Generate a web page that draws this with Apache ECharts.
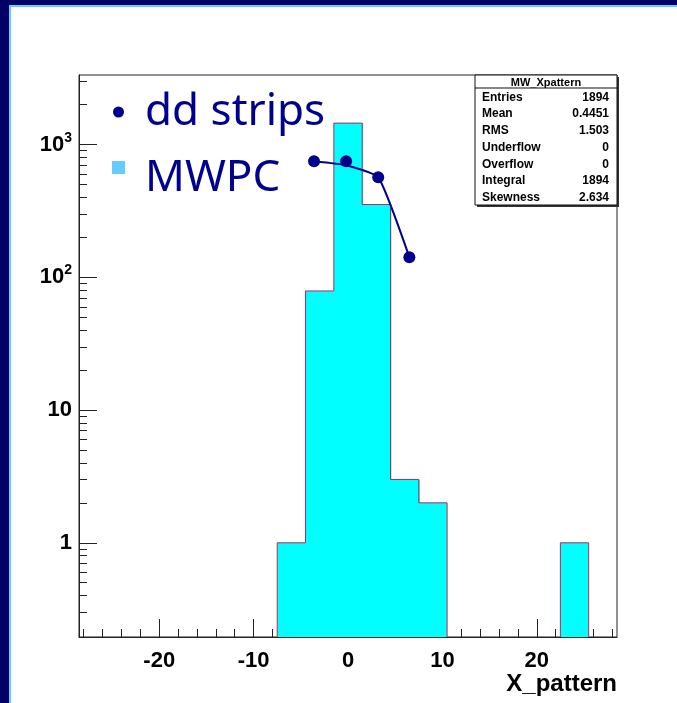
<!DOCTYPE html>
<html>
<head>
<meta charset="utf-8">
<script src="https://cdn.jsdelivr.net/npm/echarts@6/dist/echarts.min.js"></script>
<style>
html,body{margin:0;padding:0;background:#fff;}
#chart{width:677px;height:703px;}
</style>
</head>
<body>
<div id="chart"></div>
<script>
// ---- data ----
var binWidth = 3;
var binCenters = [-27,-24,-21,-18,-15,-12,-9,-6,-3,0,3,6,9,12,15,18,21,24,27];
var counts     = [0,0,0,0,0,0,0,1,79,1454,354,3,2,0,0,0,0,1,0];
var ddX = [-3.6, -0.2, 3.2, 6.5];
var ddY = [750, 750, 569, 142];
var ddLineX = [-3.6, -0.2, 3.2, 6.5];
var ddLineY = [750, 700, 569, 142];
var xMajor = [-20,-10,0,10,20];
var xMinor = [-28,-26,-24,-22,-18,-16,-14,-12,-8,-6,-4,-2,2,4,6,8,12,14,16,18,22,24,26,28];
var yMajor = [1,10,100,1000];
var yMinor = [0.3,0.4,0.5,0.6,0.7,0.8,0.9,2,3,4,5,6,7,8,9,20,30,40,50,60,70,80,90,200,300,400,500,600,700,800,900,2000,3000];
var statNames  = ['Entries','Mean','RMS','Underflow','Overflow','Integral','Skewness'];
var statValues = ['1894','0.4451','1.503','0','0','1894','2.634'];
var statTitle = 'MW_Xpattern';
var yMin = 0.195, yMax = 3350, xMin = -28.5, xMax = 28.5;

var chart = echarts.init(document.getElementById('chart'), null, {renderer:'canvas'});
var FONT = 'Liberation Sans, Arial, sans-serif';
var AX = '#222';

var histData = [];
for (var i = 0; i < counts.length; i++) {
  if (counts[i] > 0) histData.push([binCenters[i], counts[i], i]);
}

function renderBin(params, api) {
  var c = api.value(0), v = api.value(1), idx = api.value(2);
  var x0 = c - binWidth/2, x1 = c + binWidth/2;
  var pTL = api.coord([x0, v]);
  var pBR = api.coord([x1, yMin]);
  var prev = idx > 0 ? counts[idx-1] : 0;
  var next = idx < counts.length-1 ? counts[idx+1] : 0;
  var prevV = prev > 0 ? prev : yMin;
  var nextV = next > 0 ? next : yMin;
  var extra = next > 0 ? 1 : 0;
  var children = [{
    type:'rect',
    shape:{x:pTL[0], y:pTL[1], width:pBR[0]-pTL[0]+extra, height:pBR[1]-pTL[1]},
    style:{fill:'#00ffff', stroke:null}, z2:1
  }];
  var ls = {stroke:'#b8285a', lineWidth:1, fill:null};
  children.push({type:'line', shape:{x1:pTL[0], y1:pTL[1], x2:pBR[0], y2:pTL[1]}, style:ls, z2:5});
  if (v > prev) {
    var q = api.coord([x0, prevV]);
    children.push({type:'line', shape:{x1:pTL[0], y1:pTL[1], x2:pTL[0], y2:q[1]}, style:ls, z2:5});
  }
  if (v > next) {
    var r = api.coord([x1, nextV]);
    children.push({type:'line', shape:{x1:pBR[0], y1:pTL[1], x2:pBR[0], y2:r[1]}, style:ls, z2:5});
  }
  return {type:'group', children:children};
}

function yFmt(val) {
  var v = Math.round(val);
  if (v === 100) return '{b|10}{s|2}';
  if (v === 1000) return '{b|10}{s|3}';
  return '{b|' + v + '}';
}

// stats box graphic
var bx = 475, by = 75, bw = 142, bh = 130, hdr = 13;
var statChildren = [
  {type:'rect', shape:{x:bx+2, y:by+2, width:bw, height:bh}, style:{fill:'#333'}},
  {type:'rect', shape:{x:bx, y:by, width:bw, height:bh}, style:{fill:'#fff', stroke:'#111', lineWidth:1}},
  {type:'line', shape:{x1:bx, y1:by+hdr, x2:bx+bw, y2:by+hdr}, style:{stroke:'#111', lineWidth:1}},
  {type:'text', x:bx+bw/2, y:by+hdr/2+1, style:{text:statTitle, font:'bold 11px ' + FONT, fill:'#000', textAlign:'center', textVerticalAlign:'middle'}}
];
var rowH = (bh - hdr) / statNames.length;
for (var k = 0; k < statNames.length; k++) {
  var yy = by + hdr + rowH*(k+0.5) + 1;
  statChildren.push({type:'text', x:bx+7, y:yy, style:{text:statNames[k], font:'bold 12px ' + FONT, fill:'#000', textAlign:'left', textVerticalAlign:'middle'}});
  statChildren.push({type:'text', x:bx+bw-8, y:yy, style:{text:statValues[k], font:'bold 12px ' + FONT, fill:'#000', textAlign:'right', textVerticalAlign:'middle'}});
}

var option = {
  animation:false,
  backgroundColor:'#ffffff',
  grid:{left:79, top:75, width:538, height:562, show:true, borderColor:AX, borderWidth:1, backgroundColor:'transparent', containLabel:false},
  xAxis:[{
    type:'value', min:xMin, max:xMax, position:'bottom',
    axisLine:{show:true, onZero:false, lineStyle:{color:AX, width:1}},
    axisTick:{show:true, inside:true, length:18, customValues:xMajor, lineStyle:{color:AX, width:1}},
    axisLabel:{show:true, customValues:xMajor, fontSize:22, fontWeight:'bold', fontFamily:FONT, color:'#000', margin:13},
    splitLine:{show:false}
  },{
    type:'value', min:xMin, max:xMax, position:'bottom',
    axisLine:{show:false, onZero:false},
    axisTick:{show:true, inside:true, length:8, customValues:xMinor, lineStyle:{color:AX, width:1}},
    axisLabel:{show:false},
    splitLine:{show:false}
  }],
  yAxis:[{
    type:'log', logBase:10, min:yMin, max:yMax, position:'left',
    axisLine:{show:true, onZero:false, lineStyle:{color:AX, width:1}},
    axisTick:{show:true, inside:true, length:18, customValues:yMajor, lineStyle:{color:AX, width:1}},
    axisLabel:{show:true, customValues:yMajor, formatter:yFmt, margin:7,
      rich:{
        b:{fontSize:22, fontWeight:'bold', fontFamily:FONT, color:'#000'},
        s:{fontSize:14, fontWeight:'bold', fontFamily:FONT, color:'#000', verticalAlign:'bottom', padding:[0,0,14,0]}
      }},
    splitLine:{show:false}
  },{
    type:'log', logBase:10, min:yMin, max:yMax, position:'left',
    axisLine:{show:false, onZero:false},
    axisTick:{show:true, inside:true, length:8, customValues:yMinor, lineStyle:{color:AX, width:1}},
    axisLabel:{show:false},
    splitLine:{show:false}
  }],
  series:[{
    type:'custom', name:'MWPC', xAxisIndex:0, yAxisIndex:0, clip:true,
    renderItem:renderBin, data:histData, z:2
  },{
    type:'line', name:'ddline', xAxisIndex:0, yAxisIndex:0,
    data:ddLineX.map(function(x,i){return [x, ddLineY[i]];}),
    showSymbol:false, smooth:0.15, lineStyle:{color:'#00008c', width:2}, z:3
  },{
    type:'scatter', name:'dd strips', xAxisIndex:0, yAxisIndex:0,
    data:ddX.map(function(x,i){return [x, ddY[i]];}),
    symbol:'circle', symbolSize:12, itemStyle:{color:'#00008c', opacity:1}, z:4
  }],
  graphic:[
    {type:'rect', shape:{x:0, y:0, width:677, height:5}, style:{fill:'#000066'}, z:100},
    {type:'rect', shape:{x:9, y:5, width:668, height:2}, style:{fill:'#66ccff'}, z:100},
    {type:'rect', shape:{x:0, y:0, width:9, height:703}, style:{fill:'#000066'}, z:100},
    {type:'rect', shape:{x:9, y:5, width:2, height:698}, style:{fill:'#66ccff'}, z:100},
    {type:'circle', shape:{cx:118.5, cy:112, r:5.5}, style:{fill:'#000090'}, z:100},
    {type:'text', x:145, y:112, style:{text:'dd strips', font:'44px Noto Sans', fill:'#000090', textAlign:'left', textVerticalAlign:'middle'}, z:100},
    {type:'rect', shape:{x:112, y:161, width:13, height:13}, style:{fill:'#66ccff'}, z:100},
    {type:'text', x:145, y:178, style:{text:'MWPC', font:'44px Noto Sans', fill:'#000090', textAlign:'left', textVerticalAlign:'middle'}, z:100},
    {type:'text', x:617, y:684, style:{text:'X_pattern', font:'bold 24px ' + FONT, fill:'#000', textAlign:'right', textVerticalAlign:'middle'}, z:100},
    {type:'group', children:statChildren, z:100}
  ]
};
chart.setOption(option);
</script>
</body>
</html>
